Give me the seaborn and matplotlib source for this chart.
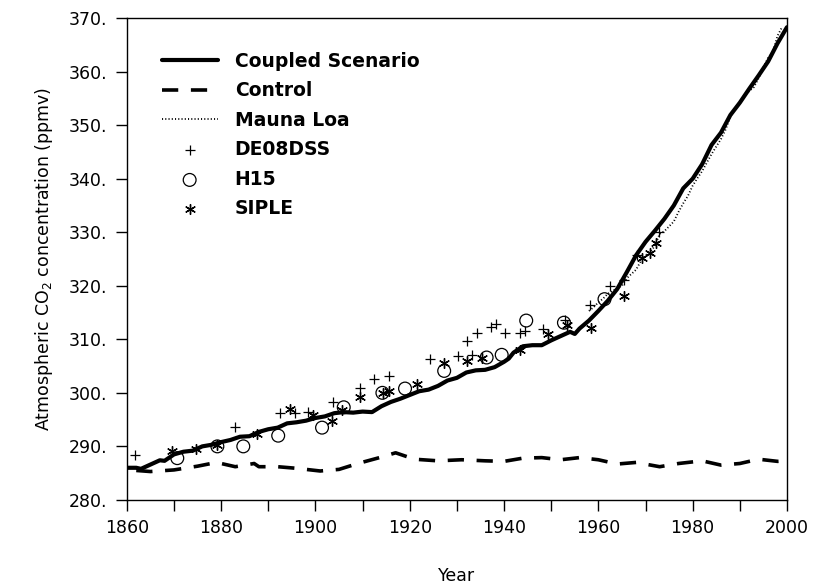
import numpy as np
import pandas as pd
import seaborn as sns
import matplotlib.pyplot as plt
from matplotlib.ticker import MultipleLocator, FormatStrFormatter

# coupled model scenario
coupled_year = [1860, 1862, 1863, 1865, 1867, 1868, 1870, 1872, 1874, 1876, 1878, 1880,
                1882, 1884, 1886, 1888, 1890, 1892, 1894, 1896, 1898, 1900, 1902, 1904,
                1906, 1908, 1910, 1912, 1914, 1916, 1918, 1920, 1922, 1924, 1926, 1928,
                1930, 1932, 1934, 1936, 1938, 1940, 1941, 1942, 1944, 1946, 1948, 1950,
                1952, 1954, 1955, 1956, 1958, 1960, 1962, 1964, 1966, 1968, 1970, 1972,
                1974, 1976, 1978, 1980, 1982, 1984, 1986, 1988, 1990, 1992, 1994, 1996,
                1998, 2000]
coupled_co2 = [286.0, 286.0, 285.8, 286.6, 287.4, 287.3, 288.5, 289.0, 289.2, 290.0, 290.3, 290.8,
               291.2, 291.8, 291.9, 292.7, 293.2, 293.5, 294.3, 294.5, 294.8, 295.3, 295.6, 296.2,
               296.4, 296.3, 296.5, 296.4, 297.5, 298.3, 298.9, 299.6, 300.3, 300.6, 301.3, 302.3,
               302.8, 303.8, 304.2, 304.3, 304.8, 305.8, 306.4, 307.5, 308.7, 308.9, 308.9, 309.8,
               310.6, 311.4, 311.0, 312.0, 313.5, 315.3, 317.2, 319.4, 322.5, 325.7, 328.2, 330.3,
               332.5, 335.0, 338.2, 340.0, 342.7, 346.3, 348.6, 351.9, 354.2, 356.8, 359.3, 361.9,
               365.3, 368.3]

# control run
control_year = [1862, 1865, 1870, 1875, 1879, 1883, 1887, 1888, 1892, 1896, 1901, 1905,
                1909, 1914, 1917, 1921, 1926, 1931, 1936, 1940, 1944, 1948, 1952, 1956,
                1960, 1964, 1968, 1973, 1977, 1982, 1986, 1990, 1994, 1998, 2000]
control_co2 = [285.5, 285.3, 285.6, 286.3, 287.0, 286.2, 286.8, 286.2, 286.2, 285.9, 285.4, 285.7,
               286.8, 288.0, 288.8, 287.6, 287.3, 287.5, 287.3, 287.2, 287.8, 287.9, 287.5, 287.9,
               287.5, 286.7, 287.0, 286.2, 286.8, 287.3, 286.5, 286.8, 287.6, 287.2, 287.3]

# Mauna Loa record
mlo_year = list(range(1958, 2000))
mlo_co2 = [315.3, 316.0, 316.9, 317.6, 318.5, 319.0, 319.6, 320.0, 321.4, 322.2, 323.0, 324.6,
           325.7, 326.3, 327.5, 329.7, 330.2, 331.1, 332.0, 333.8, 335.4, 336.8, 338.7, 340.1,
           341.4, 343.0, 344.6, 346.0, 347.4, 349.2, 351.6, 353.1, 354.4, 355.6, 356.4, 357.1,
           358.8, 360.8, 362.6, 363.7, 366.7, 368.4]

# ice core data
de08_year = [1861.7, 1882.9, 1892.5, 1895.6, 1898.5, 1903.7, 1909.4, 1912.4, 1915.5, 1924.3,
             1930.3, 1932.2, 1933.3, 1934.2, 1937.3, 1938.3, 1940.3, 1943.3, 1944.4, 1948.3,
             1952.9, 1958.3, 1962.4, 1965.4, 1968.2, 1972.8]
de08_co2 = [288.4, 293.7, 296.3, 296.3, 296.5, 298.2, 300.9, 302.5, 303.2, 306.3,
            306.9, 309.7, 307.0, 311.1, 312.3, 312.8, 311.1, 311.1, 311.6, 311.9,
            313.6, 316.4, 319.9, 321.0, 325.7, 330.0]

h15_year = [1870.7, 1879.2, 1884.7, 1892.1, 1901.4, 1906.0, 1914.2, 1919.0, 1927.3, 1936.3,
            1939.5, 1944.7, 1952.7, 1961.3]
h15_co2 = [287.8, 290.0, 290.0, 292.0, 293.5, 297.3, 300.0, 300.8, 304.1, 306.6,
           307.1, 313.5, 313.1, 317.5]

siple_year = [1869.5, 1874.6, 1879.2, 1887.5, 1894.6, 1899.5, 1903.6, 1905.6, 1909.4, 1914.3,
              1915.5, 1921.5, 1927.3, 1932.2, 1935.3, 1943.3, 1949.4, 1953.4, 1958.4, 1965.4,
              1969.2, 1971.0, 1972.3]
siple_co2 = [289.2, 289.5, 290.3, 292.3, 296.9, 295.8, 294.7, 296.8, 299.2, 300.0,
             300.4, 301.6, 305.5, 306.0, 306.6, 308.0, 310.9, 312.7, 312.1, 318.0,
             325.1, 326.1, 328.0]

sns.set_style("ticks")
plt.rcParams["font.family"] = ["DejaVu Sans"]
plt.rcParams["text.color"] = "black"
plt.rcParams["axes.labelcolor"] = "black"

fig, ax = plt.subplots(figsize=(8.13, 5.84), dpi=100)
fig.subplots_adjust(left=0.156, right=0.968, top=0.969, bottom=0.144)

sns.lineplot(x=coupled_year, y=coupled_co2, ax=ax, color="black", lw=3.0,
             label="Coupled Scenario")
sns.lineplot(x=control_year, y=control_co2, ax=ax, color="black", lw=2.6,
             linestyle=(0, (4.5, 3.5)), label="Control")
sns.lineplot(x=mlo_year, y=mlo_co2, ax=ax, color="black", lw=1.3,
             linestyle=(0, (0.6, 1.2)), label="Mauna Loa")
sns.scatterplot(x=de08_year, y=de08_co2, ax=ax, marker="+", s=55, color="black",
                linewidth=0.9, label="DE08DSS")
sns.scatterplot(x=h15_year, y=h15_co2, ax=ax, marker="o", s=85, facecolor="none",
                edgecolor="black", linewidth=0.9, label="H15")
sns.scatterplot(x=siple_year, y=siple_co2, ax=ax, marker=(6, 2, 0), s=50, color="black",
                linewidth=1.0, label="SIPLE")

ax.set_xlim(1860, 2000)
ax.set_ylim(280, 370)
ax.xaxis.set_major_locator(MultipleLocator(20))
ax.xaxis.set_minor_locator(MultipleLocator(10))
ax.yaxis.set_major_locator(MultipleLocator(10))
ax.yaxis.set_major_formatter(FormatStrFormatter("%d."))
ax.tick_params(which="both", direction="out", length=8, width=1.0, colors="black",
               labelsize=12.5, pad=6)
for sp in ax.spines.values():
    sp.set_color("black")
    sp.set_linewidth(1.0)

ax.set_xlabel("Year", fontsize=12.5, labelpad=21)
ax.set_ylabel("Atmospheric CO$_2$ concentration (ppmv)", fontsize=12.5, labelpad=10)

leg = ax.legend(loc="upper left", bbox_to_anchor=(0.027, 0.965), frameon=False,
                handlelength=3.0, handletextpad=0.9, labelspacing=0.56,
                prop={"weight": "bold", "size": 13.5})
for t in leg.get_texts():
    t.set_color("black")

fig.savefig("out.png", dpi=100)
